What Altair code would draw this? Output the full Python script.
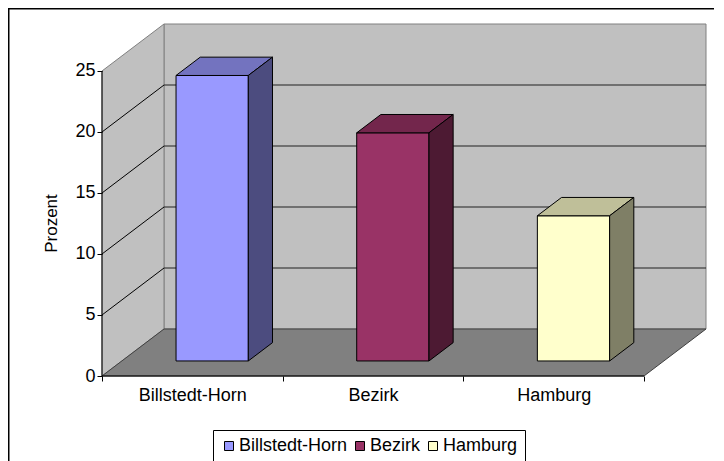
import altair as alt
import pandas as pd

# ---- data ----
categories = ["Billstedt-Horn", "Bezirk", "Hamburg"]
values = [23.4, 18.7, 11.9]
front_colors = ["#9999FF", "#993366", "#FFFFCC"]
top_colors = ["#7373BF", "#73264C", "#BFBF99"]
side_colors = ["#4C4C7F", "#4D1A33", "#7F7F66"]
y_ticks = [0, 5, 10, 15, 20, 25]

# ---- 3D geometry (in data units) ----
N = len(categories)
YTOP = 25.0
XMAX = 3.3432
YMAX = 28.852
DX = XMAX - N          # full depth offset in x units
DY = YMAX - YTOP       # full depth offset in value units
D0, D1 = 0.32, 0.71    # bar depth range
W0, W1 = 0.3, 0.7      # bar width inside category

FONT = "Liberation Sans"
FS = 18

xs = alt.Scale(domain=[0, XMAX], nice=False, zero=False)
ys = alt.Scale(domain=[0, YMAX], nice=False, zero=False)

# frame
frame = alt.Chart(pd.DataFrame({"a": [0]})).mark_rect(
    fill="transparent", stroke="black", strokeWidth=3
).encode(x=alt.value(-94), x2=alt.value(800), y=alt.value(-16), y2=alt.value(700))

# back wall
back_df = pd.DataFrame({"x0": [DX], "x1": [N + DX], "y0": [DY], "y1": [YTOP + DY]})
back = alt.Chart(back_df).mark_rect(fill="#C0C0C0", stroke="#808080", strokeWidth=1).encode(
    x=alt.X("x0:Q", scale=xs), x2="x1:Q", y=alt.Y("y0:Q", scale=ys), y2="y1:Q"
)

# left wall
left_df = pd.DataFrame({"x": [0, DX], "lo": [0, DY], "hi": [YTOP, YTOP + DY]})
left = alt.Chart(left_df).mark_area(fill="#C0C0C0", stroke="#808080", strokeWidth=1).encode(
    x=alt.X("x:Q", scale=xs), y=alt.Y("lo:Q", scale=ys), y2="hi:Q"
)

# floor
floor_df = pd.DataFrame({"y": [0, DY], "xa": [0, DX], "xb": [N, N + DX]})
floor = alt.Chart(floor_df).mark_area(
    orient="horizontal", fill="#808080", stroke="#404040", strokeWidth=1
).encode(y=alt.Y("y:Q", scale=ys), x=alt.X("xa:Q", scale=xs), x2="xb:Q")

# gridlines
grid_levels = [t for t in y_ticks if 0 < t < YTOP]
bg_df = pd.DataFrame({"x0": [DX] * len(grid_levels), "x1": [N + DX] * len(grid_levels),
                      "y": [g + DY for g in grid_levels]})
back_grid = alt.Chart(bg_df).mark_rule(color="#202020", strokeWidth=1).encode(
    x=alt.X("x0:Q", scale=xs), x2="x1:Q", y=alt.Y("y:Q", scale=ys)
)
lg_df = pd.DataFrame({"x0": [0] * len(grid_levels), "x1": [DX] * len(grid_levels),
                      "y0": grid_levels, "y1": [g + DY for g in grid_levels]})
left_grid = alt.Chart(lg_df).mark_rule(color="black", strokeWidth=1).encode(
    x=alt.X("x0:Q", scale=xs), x2="x1:Q", y=alt.Y("y0:Q", scale=ys), y2="y1:Q"
)

# bars
front_rows, top_rows, side_rows = [], [], []
for i, (c, v) in enumerate(zip(categories, values)):
    front_rows.append({"cat": c, "x0": i + W0 + D0 * DX, "x1": i + W1 + D0 * DX,
                       "y0": D0 * DY, "y1": v + D0 * DY})
    for d in (D0, D1):
        top_rows.append({"cat": c, "y": v + d * DY, "xa": i + W0 + d * DX,
                         "xb": i + W1 + d * DX, "col": top_colors[i]})
        side_rows.append({"cat": c, "x": i + W1 + d * DX, "lo": d * DY,
                          "hi": v + d * DY, "col": side_colors[i]})

front = alt.Chart(pd.DataFrame(front_rows)).mark_rect(stroke="black", strokeWidth=1).encode(
    x=alt.X("x0:Q", scale=xs), x2="x1:Q", y=alt.Y("y0:Q", scale=ys), y2="y1:Q",
    color=alt.Color("cat:N", scale=alt.Scale(domain=categories, range=front_colors),
                    legend=alt.Legend(
                        title=None, orient="none", legendX=111, legendY=406,
                        direction="horizontal", symbolType="square", symbolSize=81,
                        symbolStrokeColor="black", symbolStrokeWidth=1,
                        labelFont=FONT, labelFontSize=FS, labelColor="black",
                        strokeColor="black", fillColor="white", padding=7,
                        labelOffset=1, columnPadding=3)),
)
top = alt.Chart(pd.DataFrame(top_rows)).mark_area(
    orient="horizontal", stroke="black", strokeWidth=1
).encode(y=alt.Y("y:Q", scale=ys), x=alt.X("xa:Q", scale=xs), x2="xb:Q",
         fill=alt.Fill("col:N", scale=None), detail="cat:N")
side = alt.Chart(pd.DataFrame(side_rows)).mark_area(stroke="black", strokeWidth=1).encode(
    x=alt.X("x:Q", scale=xs), y=alt.Y("lo:Q", scale=ys), y2="hi:Q",
    fill=alt.Fill("col:N", scale=None), detail="cat:N")

# axis lines
yaxis_df = pd.DataFrame({"x": [0], "y0": [0], "y1": [YTOP]})
y_line = alt.Chart(yaxis_df).mark_rule(color="black", strokeWidth=1).encode(
    x=alt.X("x:Q", scale=xs), y=alt.Y("y0:Q", scale=ys), y2="y1:Q")
xaxis_df = pd.DataFrame({"y": [0], "x0": [0], "x1": [N]})
x_line = alt.Chart(xaxis_df).mark_rule(color="black", strokeWidth=1).encode(
    y=alt.Y("y:Q", scale=ys), x=alt.X("x0:Q", scale=xs), x2="x1:Q")

# axes carrier
x_values = [k * 0.5 for k in range(2 * N + 1)]
label_expr = "datum.value % 1 == 0.5 ? " + str(categories) + "[floor(datum.value)] : ''"
axes_df = pd.DataFrame({"x": [0], "y": [0]})
axes = alt.Chart(axes_df).mark_point(opacity=0).encode(
    x=alt.X("x:Q", scale=xs, axis=alt.Axis(
        title=None, values=x_values, labelExpr=label_expr, domain=False, grid=False,
        tickSize=5, tickColor={"condition": {"test": "datum.value % 1 == 0", "value": "black"},
                               "value": "transparent"},
        labelPadding=5, labelFont=FONT, labelFontSize=FS, labelColor="black",
        labelOverlap=False, labelFlush=False, zindex=2)),
    y=alt.Y("y:Q", scale=ys, axis=alt.Axis(
        title="Prozent", values=y_ticks, domain=False, grid=False, tickSize=5,
        tickColor="black", labelPadding=2, labelFont=FONT, labelFontSize=FS,
        labelColor="black", titleFont=FONT, titleFontSize=17, titleFontWeight="normal",
        titleColor="black", titleAngle=270, titleX=-46, titleY=199,
        titleBaseline="alphabetic", titleAlign="center", zindex=2)),
)

chart = alt.layer(
    frame, back, left, floor, back_grid, left_grid, front, top, side, y_line, x_line, axes
).properties(
    width=604, height=352,
    autosize=alt.AutoSizeParams(type="none"),
    padding={"left": 94, "top": 16, "right": 8, "bottom": 86},
    background="white",
).configure_view(stroke=None)

chart.save("out.html", embed_options={"renderer": "svg", "actions": False})
